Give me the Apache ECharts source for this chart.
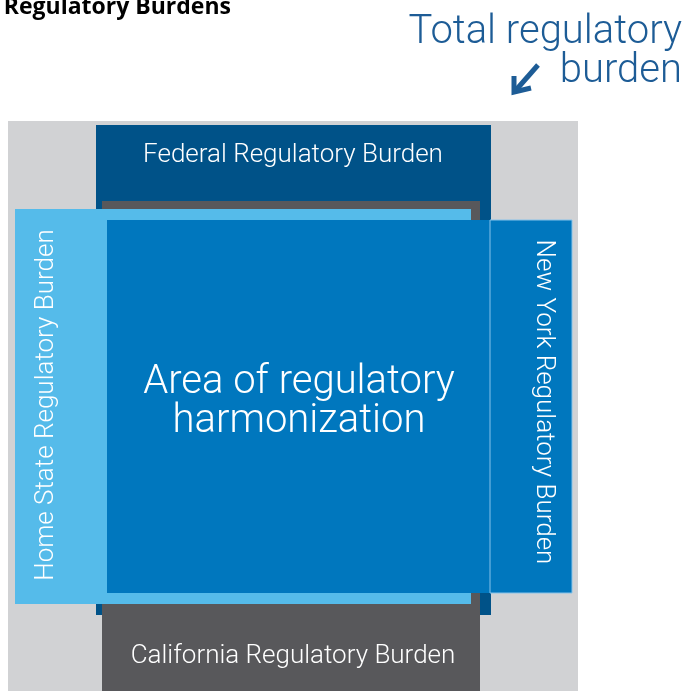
<!DOCTYPE html>
<html><head><meta charset="utf-8">
<script src="https://cdn.jsdelivr.net/npm/echarts@6/dist/echarts.min.js"></script>
<style>html,body{margin:0;padding:0;background:#fff}#c{width:686px;height:691px}</style>
</head><body><div id="c"></div>
<script>
// Diagram data (box extents in diagram units)
const boxNames   = ['Total', 'Federal', 'California', 'Home State', 'Harmonization', 'New York'];
const boxLeft    = [8,   96,  102, 15,  107, 490];
const boxRight   = [578, 491, 480, 471, 490, 572];
const boxTop     = [121, 125, 201, 209, 220, 220];
const boxBottom  = [691, 615, 691, 604, 593, 593];
const boxLabels  = ['', 'Federal Regulatory Burden', 'California Regulatory Burden',
                    'Home State Regulatory Burden', 'Area of regulatory\nharmonization',
                    'New York Regulatory Burden'];
const titleText = 'Regulatory Burdens';
const noteText = 'Total regulatory\nburden';

// Styles (kept separate from data)
const boxStyle = [
  {fill: '#d1d2d4'},
  {fill: '#005288', lx: 293, ly: 155, size: 26},
  {fill: '#58585b', lx: 293, ly: 656, size: 26},
  {fill: '#55bbea', lx: 46, ly: 405, size: 26, rot: Math.PI / 2},
  {fill: '#0077be', lx: 299, ly: 402, size: 40, lh: 39},
  {fill: '#0077be', stroke: '#86c3ea', lw: 1, lx: 543, ly: 402, size: 26, rot: -Math.PI / 2}
];
const FONT = 'Roboto, "Liberation Sans", sans-serif';

const data = boxNames.map((n, i) => ({name: n, value: [boxLeft[i], boxTop[i], boxRight[i], boxBottom[i], i]}));

const chart = echarts.init(document.getElementById('c'), null, {renderer: 'canvas'});
chart.setOption({
  animation: false,
  grid: {left: 0, right: 0, top: 0, bottom: 0},
  xAxis: {type: 'value', min: 0, max: 686, show: false},
  yAxis: {type: 'value', min: 0, max: 691, inverse: true, show: false},
  series: [{
    type: 'custom',
    data: data,
    encode: {x: [0, 2], y: [1, 3]},
    renderItem: function (params, api) {
      const i = api.value(4);
      const st = boxStyle[i];
      const p0 = api.coord([api.value(0), api.value(1)]);
      const p1 = api.coord([api.value(2), api.value(3)]);
      const children = [{
        type: 'rect',
        shape: {x: p0[0], y: p0[1], width: p1[0] - p0[0], height: p1[1] - p0[1]},
        style: {fill: st.fill, stroke: st.stroke || null, lineWidth: st.lw || 0}
      }];
      if (boxLabels[i]) {
        const lp = api.coord([st.lx, st.ly]);
        children.push({
          type: 'text', x: lp[0], y: lp[1], rotation: st.rot || 0,
          style: {
            text: boxLabels[i], fill: '#ffffff',
            font: '300 ' + st.size + 'px ' + FONT,
            lineHeight: st.lh || st.size,
            align: 'center', verticalAlign: 'middle'
          }
        });
      }
      return {type: 'group', children: children};
    }
  }],
  graphic: [
    {type: 'text', x: 231, y: 19,
     style: {text: titleText, fill: '#000', font: 'bold 23px "Open Sans", sans-serif', align: 'right', verticalAlign: 'bottom'}},
    {type: 'text', x: 682, y: 52,
     style: {text: noteText, fill: '#1d5c96', font: '300 40px ' + FONT, lineHeight: 39, align: 'right', verticalAlign: 'middle'}},
    {type: 'polyline', shape: {points: [[538, 65], [516, 90]]}, style: {stroke: '#1d5c96', lineWidth: 5, fill: null}},
    {type: 'polyline', shape: {points: [[514, 76], [514, 92], [531, 88]]}, style: {stroke: '#1d5c96', lineWidth: 5, fill: null, lineJoin: 'miter'}}
  ]
});
</script></body></html>
